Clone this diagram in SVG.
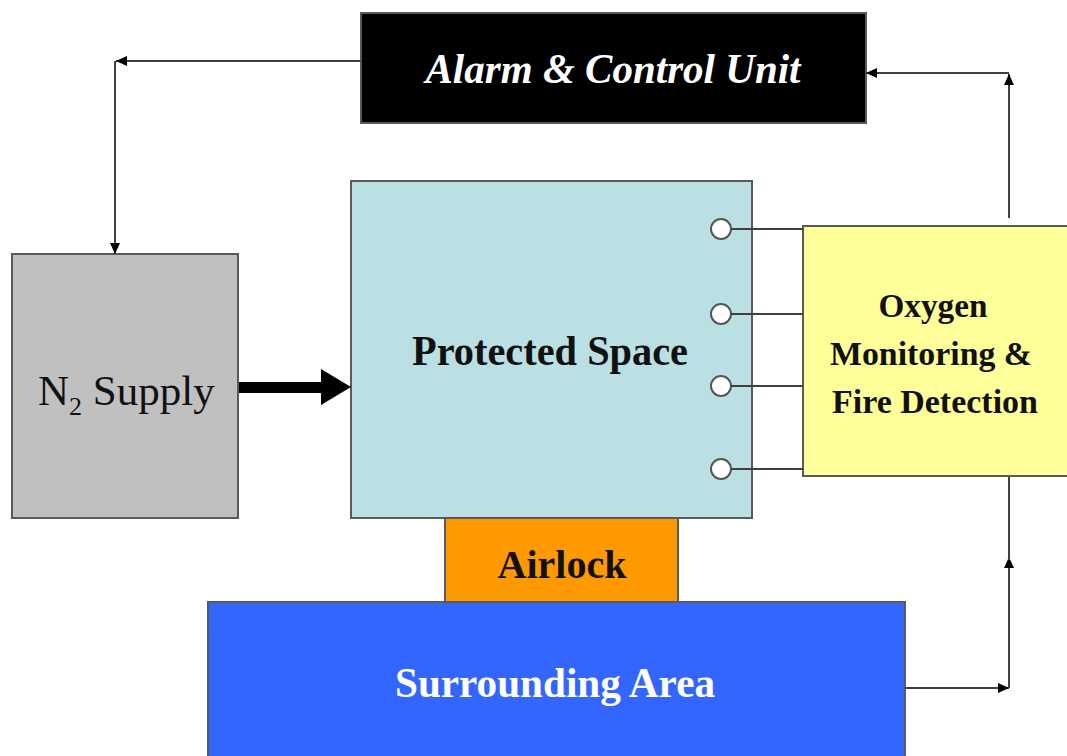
<svg xmlns="http://www.w3.org/2000/svg" width="1067" height="756" viewBox="0 0 1067 756">
  <style>
    .box { stroke: #5a5a5a; stroke-width: 2; }
    .lbl { font-family: "Liberation Serif", "Times New Roman", serif; text-anchor: middle; }
    .b { font-weight: bold; }
    .conn { fill: none; stroke: #404040; stroke-width: 2; }
    .probe { fill: #ffffff; stroke: #555555; stroke-width: 2; }
  </style>
  <defs>
    <marker id="arr" markerUnits="userSpaceOnUse" markerWidth="12" markerHeight="10" refX="11" refY="5" orient="auto">
      <path d="M0,0 L11,5 L0,10 Z" fill="#000000"/>
    </marker>
  </defs>
  <rect width="1067" height="756" fill="#ffffff"/>

  <g id="alarm">
    <rect x="361" y="13" width="505" height="110" fill="#000000" class="box"/>
    <text class="lbl b" x="613" y="83" font-size="42" font-style="italic" fill="#ffffff" textLength="375" lengthAdjust="spacingAndGlyphs">Alarm &amp; Control Unit</text>
  </g>

  <g id="n2supply">
    <rect x="12" y="254" width="226" height="264" fill="#c0c0c0" class="box"/>
    <text x="38" y="405" font-family="Liberation Serif, Times New Roman, serif" font-size="43" fill="#111111">N<tspan font-size="26" dy="10">2</tspan><tspan dy="-10"> Supply</tspan></text>
  </g>

  <g id="protected">
    <rect x="351" y="181" width="401" height="337" fill="#bbe0e3" class="box"/>
    <text class="lbl b" x="550" y="365" font-size="42" fill="#111111" textLength="276" lengthAdjust="spacingAndGlyphs">Protected Space</text>
    <circle class="probe" cx="721" cy="229" r="10"/>
    <circle class="probe" cx="721" cy="314" r="10"/>
    <circle class="probe" cx="721" cy="386" r="10"/>
    <circle class="probe" cx="721" cy="469" r="10"/>
  </g>

  <g id="oxygen">
    <rect x="803" y="226" width="270" height="250" fill="#ffff99" class="box"/>
    <text class="lbl b" x="933" y="317" font-size="34" fill="#111111" textLength="109" lengthAdjust="spacingAndGlyphs">Oxygen</text>
    <text class="lbl b" x="931" y="365" font-size="34" fill="#111111" textLength="202" lengthAdjust="spacingAndGlyphs">Monitoring &amp;</text>
    <text class="lbl b" x="935" y="413" font-size="34" fill="#111111" textLength="206" lengthAdjust="spacingAndGlyphs">Fire Detection</text>
  </g>

  <g id="airlock">
    <rect x="445" y="518" width="233" height="84" fill="#ff9900" class="box"/>
    <text class="lbl b" x="562" y="578" font-size="40" fill="#111111" textLength="129" lengthAdjust="spacingAndGlyphs">Airlock</text>
  </g>

  <g id="surrounding">
    <rect x="208" y="602" width="697" height="160" fill="#3366ff" class="box"/>
    <text class="lbl b" x="555" y="697" font-size="42" fill="#ffffff" textLength="320" lengthAdjust="spacingAndGlyphs">Surrounding Area</text>
  </g>

  <g id="connectors">
    <path class="conn" d="M361,61 H116" marker-end="url(#arr)"/>
    <path class="conn" d="M115,61 V254" marker-end="url(#arr)"/>
    <path class="conn" d="M1009,218 V74" marker-end="url(#arr)"/>
    <path class="conn" d="M1009,73 H866" marker-end="url(#arr)"/>
    <path class="conn" d="M905,688 H1009" marker-end="url(#arr)"/>
    <path class="conn" d="M1009,688 V557" marker-end="url(#arr)"/>
    <path class="conn" d="M1009,560 V477"/>
    <path class="conn" d="M731,229 H803 M731,314 H803 M731,386 H803 M731,469 H803"/>
    <path d="M239,382 H321 V369 L351,387 L321,405 V393 H239 Z" fill="#000000"/>
  </g>
</svg>
